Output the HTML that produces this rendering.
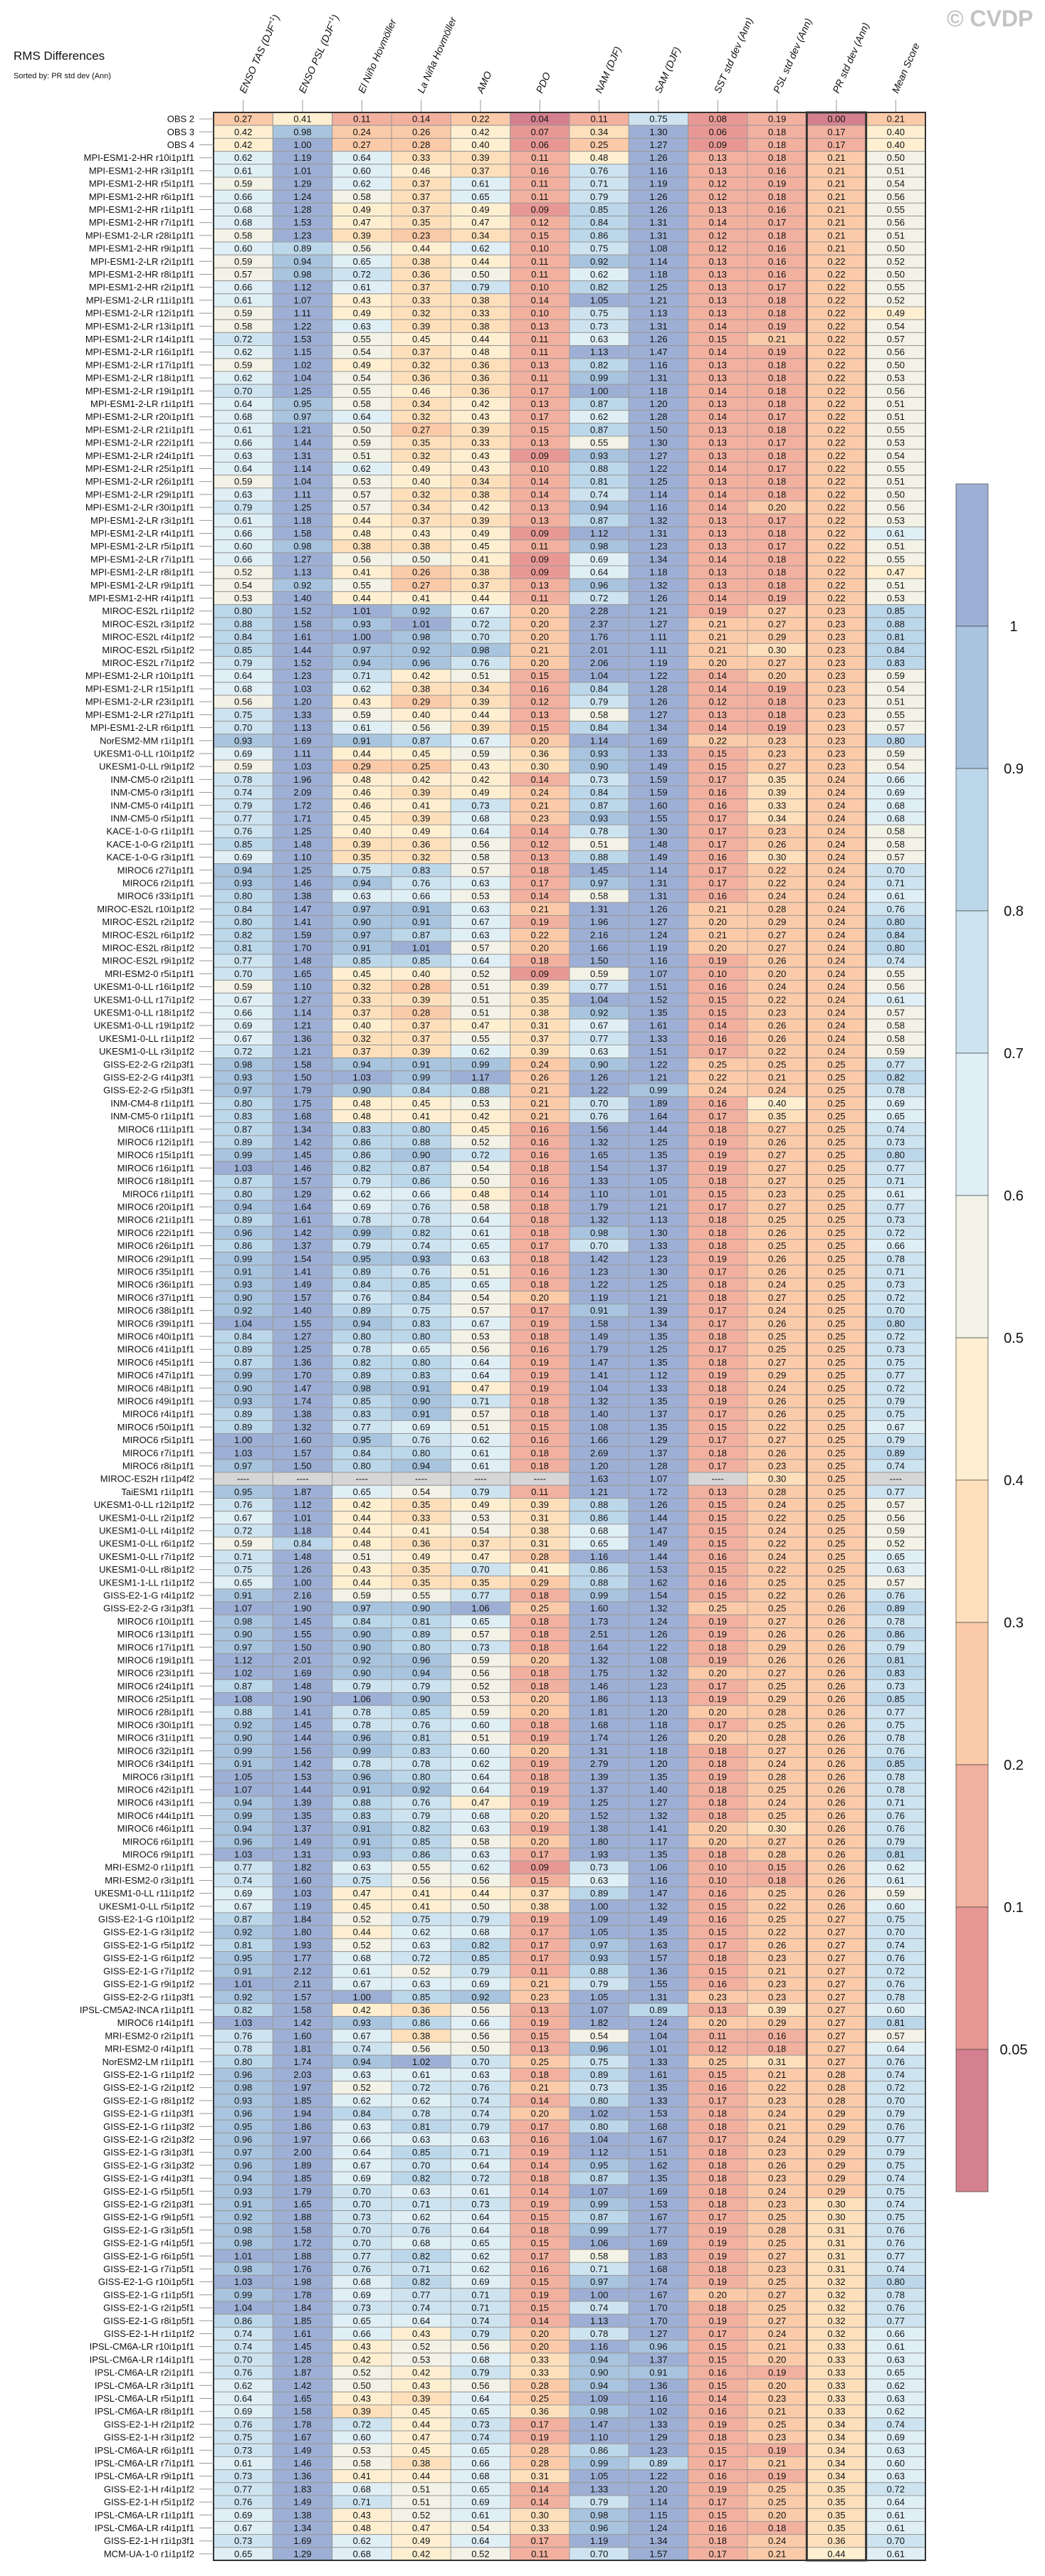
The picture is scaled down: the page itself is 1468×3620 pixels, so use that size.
<!DOCTYPE html>
<html><head><meta charset="utf-8">
<style>
html,body{margin:0;padding:0;background:#fff;}
svg{display:block;font-family:"Liberation Sans",Arial,sans-serif;}
</style></head>
<body>
<svg id="chart" width="1468" height="3620" viewBox="0 0 1468 3620" xmlns="http://www.w3.org/2000/svg">
<text x="19" y="84" font-size="17" fill="#111">RMS Differences</text>
<text x="19" y="110" font-size="11" fill="#111">Sorted by: PR std dev (Ann)</text>
<text x="1330" y="37" font-size="32" font-weight="bold" fill="#c4c4c4">© CVDP</text>
<g id="header"></g>
<g id="cells"></g>
<g id="rowlabels"></g>
<g id="colorbar"></g>
</svg>
<script>
const columnLabels = ["ENSO TAS (DJF|+1|)","ENSO PSL (DJF|+1|)","El Niño Hovmöller","La Niña Hovmöller","AMO","PDO","NAM (DJF)","SAM (DJF)","SST std dev (Ann)","PSL std dev (Ann)","PR std dev (Ann)","Mean Score"];
const colorLevels = [0.05,0.1,0.2,0.3,0.4,0.5,0.6,0.7,0.8,0.9,1];
const colorbarTickLabels = ["0.05","0.1","0.2","0.3","0.4","0.5","0.6","0.7","0.8","0.9","1"];
const levelColors = ["#d4808f","#e89894","#f2b09f","#fbcaa8","#fde0bb","#fdefd0","#f3f2e6","#e0eff6","#cde4f0","#bcd7ea","#a8c4de","#9dafd4"];
const rowLabels = [
"OBS 2","OBS 3","OBS 4",
"MPI-ESM1-2-HR r10i1p1f1","MPI-ESM1-2-HR r3i1p1f1","MPI-ESM1-2-HR r5i1p1f1","MPI-ESM1-2-HR r6i1p1f1","MPI-ESM1-2-HR r1i1p1f1","MPI-ESM1-2-HR r7i1p1f1","MPI-ESM1-2-LR r28i1p1f1","MPI-ESM1-2-HR r9i1p1f1","MPI-ESM1-2-LR r2i1p1f1","MPI-ESM1-2-HR r8i1p1f1","MPI-ESM1-2-HR r2i1p1f1","MPI-ESM1-2-LR r11i1p1f1","MPI-ESM1-2-LR r12i1p1f1","MPI-ESM1-2-LR r13i1p1f1","MPI-ESM1-2-LR r14i1p1f1","MPI-ESM1-2-LR r16i1p1f1","MPI-ESM1-2-LR r17i1p1f1","MPI-ESM1-2-LR r18i1p1f1","MPI-ESM1-2-LR r19i1p1f1","MPI-ESM1-2-LR r1i1p1f1","MPI-ESM1-2-LR r20i1p1f1","MPI-ESM1-2-LR r21i1p1f1","MPI-ESM1-2-LR r22i1p1f1","MPI-ESM1-2-LR r24i1p1f1","MPI-ESM1-2-LR r25i1p1f1","MPI-ESM1-2-LR r26i1p1f1","MPI-ESM1-2-LR r29i1p1f1","MPI-ESM1-2-LR r30i1p1f1","MPI-ESM1-2-LR r3i1p1f1","MPI-ESM1-2-LR r4i1p1f1","MPI-ESM1-2-LR r5i1p1f1","MPI-ESM1-2-LR r7i1p1f1","MPI-ESM1-2-LR r8i1p1f1","MPI-ESM1-2-LR r9i1p1f1","MPI-ESM1-2-HR r4i1p1f1",
"MIROC-ES2L r1i1p1f2","MIROC-ES2L r3i1p1f2","MIROC-ES2L r4i1p1f2","MIROC-ES2L r5i1p1f2","MIROC-ES2L r7i1p1f2","MPI-ESM1-2-LR r10i1p1f1","MPI-ESM1-2-LR r15i1p1f1","MPI-ESM1-2-LR r23i1p1f1","MPI-ESM1-2-LR r27i1p1f1","MPI-ESM1-2-LR r6i1p1f1","NorESM2-MM r1i1p1f1","UKESM1-0-LL r10i1p1f2","UKESM1-0-LL r9i1p1f2","INM-CM5-0 r2i1p1f1","INM-CM5-0 r3i1p1f1","INM-CM5-0 r4i1p1f1","INM-CM5-0 r5i1p1f1","KACE-1-0-G r1i1p1f1","KACE-1-0-G r2i1p1f1","KACE-1-0-G r3i1p1f1","MIROC6 r27i1p1f1","MIROC6 r2i1p1f1","MIROC6 r33i1p1f1","MIROC-ES2L r10i1p1f2","MIROC-ES2L r2i1p1f2","MIROC-ES2L r6i1p1f2","MIROC-ES2L r8i1p1f2","MIROC-ES2L r9i1p1f2","MRI-ESM2-0 r5i1p1f1","UKESM1-0-LL r16i1p1f2","UKESM1-0-LL r17i1p1f2","UKESM1-0-LL r18i1p1f2","UKESM1-0-LL r19i1p1f2","UKESM1-0-LL r1i1p1f2","UKESM1-0-LL r3i1p1f2","GISS-E2-2-G r2i1p3f1","GISS-E2-2-G r4i1p3f1","GISS-E2-2-G r5i1p3f1",
"INM-CM4-8 r1i1p1f1","INM-CM5-0 r1i1p1f1","MIROC6 r11i1p1f1","MIROC6 r12i1p1f1","MIROC6 r15i1p1f1","MIROC6 r16i1p1f1","MIROC6 r18i1p1f1","MIROC6 r1i1p1f1","MIROC6 r20i1p1f1","MIROC6 r21i1p1f1","MIROC6 r22i1p1f1","MIROC6 r26i1p1f1","MIROC6 r29i1p1f1","MIROC6 r35i1p1f1","MIROC6 r36i1p1f1","MIROC6 r37i1p1f1","MIROC6 r38i1p1f1","MIROC6 r39i1p1f1","MIROC6 r40i1p1f1","MIROC6 r41i1p1f1","MIROC6 r45i1p1f1","MIROC6 r47i1p1f1","MIROC6 r48i1p1f1","MIROC6 r49i1p1f1","MIROC6 r4i1p1f1","MIROC6 r50i1p1f1","MIROC6 r5i1p1f1","MIROC6 r7i1p1f1","MIROC6 r8i1p1f1","MIROC-ES2H r1i1p4f2","TaiESM1 r1i1p1f1","UKESM1-0-LL r12i1p1f2","UKESM1-0-LL r2i1p1f2","UKESM1-0-LL r4i1p1f2","UKESM1-0-LL r6i1p1f2","UKESM1-0-LL r7i1p1f2","UKESM1-0-LL r8i1p1f2","UKESM1-1-LL r1i1p1f2",
"GISS-E2-1-G r4i1p1f2","GISS-E2-2-G r3i1p3f1","MIROC6 r10i1p1f1","MIROC6 r13i1p1f1","MIROC6 r17i1p1f1","MIROC6 r19i1p1f1","MIROC6 r23i1p1f1","MIROC6 r24i1p1f1","MIROC6 r25i1p1f1","MIROC6 r28i1p1f1","MIROC6 r30i1p1f1","MIROC6 r31i1p1f1","MIROC6 r32i1p1f1","MIROC6 r34i1p1f1","MIROC6 r3i1p1f1","MIROC6 r42i1p1f1","MIROC6 r43i1p1f1","MIROC6 r44i1p1f1","MIROC6 r46i1p1f1","MIROC6 r6i1p1f1","MIROC6 r9i1p1f1","MRI-ESM2-0 r1i1p1f1","MRI-ESM2-0 r3i1p1f1","UKESM1-0-LL r11i1p1f2","UKESM1-0-LL r5i1p1f2","GISS-E2-1-G r10i1p1f2","GISS-E2-1-G r3i1p1f2","GISS-E2-1-G r5i1p1f2","GISS-E2-1-G r6i1p1f2","GISS-E2-1-G r7i1p1f2","GISS-E2-1-G r9i1p1f2","GISS-E2-2-G r1i1p3f1","IPSL-CM5A2-INCA r1i1p1f1","MIROC6 r14i1p1f1","MRI-ESM2-0 r2i1p1f1","MRI-ESM2-0 r4i1p1f1","NorESM2-LM r1i1p1f1","GISS-E2-1-G r1i1p1f2",
"GISS-E2-1-G r2i1p1f2","GISS-E2-1-G r8i1p1f2","GISS-E2-1-G r1i1p3f1","GISS-E2-1-G r1i1p3f2","GISS-E2-1-G r2i1p3f2","GISS-E2-1-G r3i1p3f1","GISS-E2-1-G r3i1p3f2","GISS-E2-1-G r4i1p3f1","GISS-E2-1-G r5i1p5f1","GISS-E2-1-G r2i1p3f1","GISS-E2-1-G r9i1p5f1","GISS-E2-1-G r3i1p5f1","GISS-E2-1-G r4i1p5f1","GISS-E2-1-G r6i1p5f1","GISS-E2-1-G r7i1p5f1","GISS-E2-1-G r10i1p5f1","GISS-E2-1-G r1i1p5f1","GISS-E2-1-G r2i1p5f1","GISS-E2-1-G r8i1p5f1","GISS-E2-1-H r1i1p1f2","IPSL-CM6A-LR r10i1p1f1","IPSL-CM6A-LR r14i1p1f1","IPSL-CM6A-LR r2i1p1f1","IPSL-CM6A-LR r3i1p1f1","IPSL-CM6A-LR r5i1p1f1","IPSL-CM6A-LR r8i1p1f1","GISS-E2-1-H r2i1p1f2","GISS-E2-1-H r3i1p1f2","IPSL-CM6A-LR r6i1p1f1","IPSL-CM6A-LR r7i1p1f1","IPSL-CM6A-LR r9i1p1f1","GISS-E2-1-H r4i1p1f2","GISS-E2-1-H r5i1p1f2","IPSL-CM6A-LR r1i1p1f1","IPSL-CM6A-LR r4i1p1f1","GISS-E2-1-H r1i1p3f1","MCM-UA-1-0 r1i1p1f2"];
const cellValues = [
[0.27,0.41,0.11,0.14,0.22,0.04,0.11,0.75,0.08,0.19,0.00,0.21],
[0.42,0.98,0.24,0.26,0.42,0.07,0.34,1.30,0.06,0.18,0.17,0.40],
[0.42,1.00,0.27,0.28,0.40,0.06,0.25,1.27,0.09,0.18,0.17,0.40],
[0.62,1.19,0.64,0.33,0.39,0.11,0.48,1.26,0.13,0.18,0.21,0.50],
[0.61,1.01,0.60,0.46,0.37,0.16,0.76,1.16,0.13,0.16,0.21,0.51],
[0.59,1.29,0.62,0.37,0.61,0.11,0.71,1.19,0.12,0.19,0.21,0.54],
[0.66,1.24,0.58,0.37,0.65,0.11,0.79,1.26,0.12,0.18,0.21,0.56],
[0.68,1.28,0.49,0.37,0.49,0.09,0.85,1.26,0.13,0.16,0.21,0.55],
[0.68,1.53,0.47,0.35,0.47,0.12,0.84,1.31,0.14,0.17,0.21,0.56],
[0.58,1.23,0.39,0.23,0.34,0.15,0.86,1.31,0.12,0.18,0.21,0.51],
[0.60,0.89,0.56,0.44,0.62,0.10,0.75,1.08,0.12,0.16,0.21,0.50],
[0.59,0.94,0.65,0.38,0.44,0.11,0.92,1.14,0.13,0.16,0.22,0.52],
[0.57,0.98,0.72,0.36,0.50,0.11,0.62,1.18,0.13,0.16,0.22,0.50],
[0.66,1.12,0.61,0.37,0.79,0.10,0.82,1.25,0.13,0.17,0.22,0.55],
[0.61,1.07,0.43,0.33,0.38,0.14,1.05,1.21,0.13,0.18,0.22,0.52],
[0.59,1.11,0.49,0.32,0.33,0.10,0.75,1.13,0.13,0.18,0.22,0.49],
[0.58,1.22,0.63,0.39,0.38,0.13,0.73,1.31,0.14,0.19,0.22,0.54],
[0.72,1.53,0.55,0.45,0.44,0.11,0.63,1.26,0.15,0.21,0.22,0.57],
[0.62,1.15,0.54,0.37,0.48,0.11,1.13,1.47,0.14,0.19,0.22,0.56],
[0.59,1.02,0.49,0.32,0.36,0.13,0.82,1.16,0.13,0.18,0.22,0.50],
[0.62,1.04,0.54,0.36,0.36,0.11,0.99,1.31,0.13,0.18,0.22,0.53],
[0.70,1.25,0.55,0.46,0.36,0.17,1.00,1.18,0.14,0.18,0.22,0.56],
[0.64,0.95,0.58,0.34,0.42,0.13,0.87,1.20,0.13,0.18,0.22,0.51],
[0.68,0.97,0.64,0.32,0.43,0.17,0.62,1.28,0.14,0.17,0.22,0.51],
[0.61,1.21,0.50,0.27,0.39,0.15,0.87,1.50,0.13,0.18,0.22,0.55],
[0.66,1.44,0.59,0.35,0.33,0.13,0.55,1.30,0.13,0.17,0.22,0.53],
[0.63,1.31,0.51,0.32,0.43,0.09,0.93,1.27,0.13,0.18,0.22,0.54],
[0.64,1.14,0.62,0.49,0.43,0.10,0.88,1.22,0.14,0.17,0.22,0.55],
[0.59,1.04,0.53,0.40,0.34,0.14,0.81,1.25,0.13,0.18,0.22,0.51],
[0.63,1.11,0.57,0.32,0.38,0.14,0.74,1.14,0.14,0.18,0.22,0.50],
[0.79,1.25,0.57,0.34,0.42,0.13,0.94,1.16,0.14,0.20,0.22,0.56],
[0.61,1.18,0.44,0.37,0.39,0.13,0.87,1.32,0.13,0.17,0.22,0.53],
[0.66,1.58,0.48,0.43,0.49,0.09,1.12,1.31,0.13,0.18,0.22,0.61],
[0.60,0.98,0.38,0.38,0.45,0.11,0.98,1.23,0.13,0.17,0.22,0.51],
[0.66,1.27,0.56,0.50,0.41,0.09,0.69,1.34,0.14,0.18,0.22,0.55],
[0.52,1.13,0.41,0.26,0.38,0.09,0.64,1.18,0.13,0.18,0.22,0.47],
[0.54,0.92,0.55,0.27,0.37,0.13,0.96,1.32,0.13,0.18,0.22,0.51],
[0.53,1.40,0.44,0.41,0.44,0.11,0.72,1.26,0.14,0.19,0.22,0.53],
[0.80,1.52,1.01,0.92,0.67,0.20,2.28,1.21,0.19,0.27,0.23,0.85],
[0.88,1.58,0.93,1.01,0.72,0.20,2.37,1.27,0.21,0.27,0.23,0.88],
[0.84,1.61,1.00,0.98,0.70,0.20,1.76,1.11,0.21,0.29,0.23,0.81],
[0.85,1.44,0.97,0.92,0.98,0.21,2.01,1.11,0.21,0.30,0.23,0.84],
[0.79,1.52,0.94,0.96,0.76,0.20,2.06,1.19,0.20,0.27,0.23,0.83],
[0.64,1.23,0.71,0.42,0.51,0.15,1.04,1.22,0.14,0.20,0.23,0.59],
[0.68,1.03,0.62,0.38,0.34,0.16,0.84,1.28,0.14,0.19,0.23,0.54],
[0.56,1.20,0.43,0.29,0.39,0.12,0.79,1.26,0.12,0.18,0.23,0.51],
[0.75,1.33,0.59,0.40,0.44,0.13,0.58,1.27,0.13,0.18,0.23,0.55],
[0.70,1.13,0.61,0.56,0.39,0.15,0.84,1.34,0.14,0.19,0.23,0.57],
[0.93,1.69,0.91,0.87,0.67,0.20,1.14,1.69,0.22,0.23,0.23,0.80],
[0.69,1.11,0.44,0.45,0.59,0.36,0.93,1.33,0.15,0.23,0.23,0.59],
[0.59,1.03,0.29,0.25,0.43,0.30,0.90,1.49,0.15,0.27,0.23,0.54],
[0.78,1.96,0.48,0.42,0.42,0.14,0.73,1.59,0.17,0.35,0.24,0.66],
[0.74,2.09,0.46,0.39,0.49,0.24,0.84,1.59,0.16,0.39,0.24,0.69],
[0.79,1.72,0.46,0.41,0.73,0.21,0.87,1.60,0.16,0.33,0.24,0.68],
[0.77,1.71,0.45,0.39,0.68,0.23,0.93,1.55,0.17,0.34,0.24,0.68],
[0.76,1.25,0.40,0.49,0.64,0.14,0.78,1.30,0.17,0.23,0.24,0.58],
[0.85,1.48,0.39,0.36,0.56,0.12,0.51,1.48,0.17,0.26,0.24,0.58],
[0.69,1.10,0.35,0.32,0.58,0.13,0.88,1.49,0.16,0.30,0.24,0.57],
[0.94,1.25,0.75,0.83,0.57,0.18,1.45,1.14,0.17,0.22,0.24,0.70],
[0.93,1.46,0.94,0.76,0.63,0.17,0.97,1.31,0.17,0.22,0.24,0.71],
[0.80,1.38,0.63,0.66,0.53,0.14,0.58,1.31,0.16,0.24,0.24,0.61],
[0.84,1.47,0.97,0.91,0.63,0.21,1.31,1.26,0.21,0.28,0.24,0.76],
[0.80,1.41,0.90,0.91,0.67,0.19,1.96,1.27,0.20,0.29,0.24,0.80],
[0.82,1.59,0.97,0.87,0.63,0.22,2.16,1.24,0.21,0.27,0.24,0.84],
[0.81,1.70,0.91,1.01,0.57,0.20,1.66,1.19,0.20,0.27,0.24,0.80],
[0.77,1.48,0.85,0.85,0.64,0.18,1.50,1.16,0.19,0.26,0.24,0.74],
[0.70,1.65,0.45,0.40,0.52,0.09,0.59,1.07,0.10,0.20,0.24,0.55],
[0.59,1.10,0.32,0.28,0.51,0.39,0.77,1.51,0.16,0.24,0.24,0.56],
[0.67,1.27,0.33,0.39,0.51,0.35,1.04,1.52,0.15,0.22,0.24,0.61],
[0.66,1.14,0.37,0.28,0.51,0.38,0.92,1.35,0.15,0.23,0.24,0.57],
[0.69,1.21,0.40,0.37,0.47,0.31,0.67,1.61,0.14,0.26,0.24,0.58],
[0.67,1.36,0.32,0.37,0.55,0.37,0.77,1.33,0.16,0.26,0.24,0.58],
[0.72,1.21,0.37,0.39,0.62,0.39,0.63,1.51,0.17,0.22,0.24,0.59],
[0.98,1.58,0.94,0.91,0.99,0.24,0.90,1.22,0.25,0.25,0.25,0.77],
[0.93,1.50,1.03,0.99,1.17,0.26,1.26,1.21,0.22,0.21,0.25,0.82],
[0.97,1.79,0.90,0.84,0.88,0.21,1.22,0.99,0.24,0.24,0.25,0.78],
[0.80,1.75,0.48,0.45,0.53,0.21,0.70,1.89,0.16,0.40,0.25,0.69],
[0.83,1.68,0.48,0.41,0.42,0.21,0.76,1.64,0.17,0.35,0.25,0.65],
[0.87,1.34,0.83,0.80,0.45,0.16,1.56,1.44,0.18,0.27,0.25,0.74],
[0.89,1.42,0.86,0.88,0.52,0.16,1.32,1.25,0.19,0.26,0.25,0.73],
[0.99,1.45,0.86,0.90,0.72,0.16,1.65,1.35,0.19,0.27,0.25,0.80],
[1.03,1.46,0.82,0.87,0.54,0.18,1.54,1.37,0.19,0.27,0.25,0.77],
[0.87,1.57,0.79,0.86,0.50,0.16,1.33,1.05,0.18,0.27,0.25,0.71],
[0.80,1.29,0.62,0.66,0.48,0.14,1.10,1.01,0.15,0.23,0.25,0.61],
[0.94,1.64,0.69,0.76,0.58,0.18,1.79,1.21,0.17,0.27,0.25,0.77],
[0.89,1.61,0.78,0.78,0.64,0.18,1.32,1.13,0.18,0.25,0.25,0.73],
[0.96,1.42,0.99,0.82,0.61,0.18,0.98,1.30,0.18,0.26,0.25,0.72],
[0.86,1.37,0.79,0.74,0.65,0.17,0.70,1.33,0.18,0.25,0.25,0.66],
[0.99,1.54,0.95,0.93,0.63,0.18,1.42,1.23,0.19,0.26,0.25,0.78],
[0.91,1.41,0.89,0.76,0.51,0.16,1.23,1.30,0.17,0.26,0.25,0.71],
[0.93,1.49,0.84,0.85,0.65,0.18,1.22,1.25,0.18,0.24,0.25,0.73],
[0.90,1.57,0.76,0.84,0.54,0.20,1.19,1.21,0.18,0.27,0.25,0.72],
[0.92,1.40,0.89,0.75,0.57,0.17,0.91,1.39,0.17,0.24,0.25,0.70],
[1.04,1.55,0.94,0.83,0.67,0.19,1.58,1.34,0.17,0.26,0.25,0.80],
[0.84,1.27,0.80,0.80,0.53,0.18,1.49,1.35,0.18,0.25,0.25,0.72],
[0.89,1.25,0.78,0.65,0.56,0.16,1.79,1.25,0.17,0.25,0.25,0.73],
[0.87,1.36,0.82,0.80,0.64,0.19,1.47,1.35,0.18,0.27,0.25,0.75],
[0.99,1.70,0.89,0.83,0.64,0.19,1.41,1.12,0.19,0.29,0.25,0.77],
[0.90,1.47,0.98,0.91,0.47,0.19,1.04,1.33,0.18,0.24,0.25,0.72],
[0.93,1.74,0.85,0.90,0.71,0.18,1.32,1.35,0.19,0.26,0.25,0.79],
[0.89,1.38,0.83,0.91,0.57,0.18,1.40,1.37,0.17,0.26,0.25,0.75],
[0.89,1.32,0.77,0.69,0.51,0.15,1.08,1.35,0.15,0.22,0.25,0.67],
[1.00,1.60,0.95,0.76,0.62,0.16,1.66,1.29,0.17,0.27,0.25,0.79],
[1.03,1.57,0.84,0.80,0.61,0.18,2.69,1.37,0.18,0.26,0.25,0.89],
[0.97,1.50,0.80,0.94,0.61,0.18,1.20,1.28,0.17,0.23,0.25,0.74],
[null,null,null,null,null,null,1.63,1.07,null,0.30,0.25,null],
[0.95,1.87,0.65,0.54,0.79,0.11,1.21,1.72,0.13,0.28,0.25,0.77],
[0.76,1.12,0.42,0.35,0.49,0.39,0.88,1.26,0.15,0.24,0.25,0.57],
[0.67,1.01,0.44,0.33,0.53,0.31,0.86,1.44,0.15,0.22,0.25,0.56],
[0.72,1.18,0.44,0.41,0.54,0.38,0.68,1.47,0.15,0.24,0.25,0.59],
[0.59,0.84,0.48,0.36,0.37,0.31,0.65,1.49,0.15,0.22,0.25,0.52],
[0.71,1.48,0.51,0.49,0.47,0.28,1.16,1.44,0.16,0.24,0.25,0.65],
[0.75,1.26,0.43,0.35,0.70,0.41,0.86,1.53,0.15,0.22,0.25,0.63],
[0.65,1.00,0.44,0.35,0.35,0.29,0.88,1.62,0.16,0.25,0.25,0.57],
[0.91,2.16,0.59,0.55,0.77,0.18,0.99,1.54,0.15,0.22,0.26,0.76],
[1.07,1.90,0.97,0.90,1.06,0.25,1.60,1.32,0.25,0.25,0.26,0.89],
[0.98,1.45,0.84,0.81,0.65,0.18,1.73,1.24,0.19,0.27,0.26,0.78],
[0.90,1.55,0.90,0.89,0.57,0.18,2.51,1.26,0.19,0.26,0.26,0.86],
[0.97,1.50,0.90,0.80,0.73,0.18,1.64,1.22,0.18,0.29,0.26,0.79],
[1.12,2.01,0.92,0.96,0.59,0.20,1.32,1.08,0.19,0.26,0.26,0.81],
[1.02,1.69,0.90,0.94,0.56,0.18,1.75,1.32,0.20,0.27,0.26,0.83],
[0.87,1.48,0.79,0.79,0.52,0.18,1.46,1.23,0.17,0.25,0.26,0.73],
[1.08,1.90,1.06,0.90,0.53,0.20,1.86,1.13,0.19,0.29,0.26,0.85],
[0.88,1.41,0.78,0.85,0.59,0.20,1.81,1.20,0.20,0.28,0.26,0.77],
[0.92,1.45,0.78,0.76,0.60,0.18,1.68,1.18,0.17,0.25,0.26,0.75],
[0.90,1.44,0.96,0.81,0.51,0.19,1.74,1.26,0.20,0.28,0.26,0.78],
[0.99,1.56,0.99,0.83,0.60,0.20,1.31,1.18,0.18,0.27,0.26,0.76],
[0.91,1.42,0.78,0.78,0.62,0.19,2.79,1.20,0.18,0.24,0.26,0.85],
[1.05,1.53,0.96,0.80,0.64,0.18,1.39,1.35,0.19,0.28,0.26,0.78],
[1.07,1.44,0.91,0.92,0.64,0.19,1.37,1.40,0.18,0.25,0.26,0.78],
[0.94,1.39,0.88,0.76,0.47,0.19,1.25,1.27,0.18,0.24,0.26,0.71],
[0.99,1.35,0.83,0.79,0.68,0.20,1.52,1.32,0.18,0.25,0.26,0.76],
[0.94,1.37,0.91,0.82,0.63,0.19,1.38,1.41,0.20,0.30,0.26,0.76],
[0.96,1.49,0.91,0.85,0.58,0.20,1.80,1.17,0.20,0.27,0.26,0.79],
[1.03,1.31,0.93,0.86,0.63,0.17,1.93,1.35,0.18,0.28,0.26,0.81],
[0.77,1.82,0.63,0.55,0.62,0.09,0.73,1.06,0.10,0.15,0.26,0.62],
[0.74,1.60,0.75,0.56,0.56,0.15,0.63,1.16,0.10,0.18,0.26,0.61],
[0.69,1.03,0.47,0.41,0.44,0.37,0.89,1.47,0.16,0.25,0.26,0.59],
[0.67,1.19,0.45,0.41,0.50,0.38,1.00,1.32,0.15,0.22,0.26,0.60],
[0.87,1.84,0.52,0.75,0.79,0.19,1.09,1.49,0.16,0.25,0.27,0.75],
[0.92,1.80,0.44,0.62,0.68,0.17,1.05,1.35,0.15,0.22,0.27,0.70],
[0.81,1.93,0.52,0.63,0.82,0.17,0.97,1.63,0.17,0.26,0.27,0.74],
[0.95,1.77,0.68,0.72,0.85,0.17,0.93,1.57,0.18,0.23,0.27,0.76],
[0.91,2.12,0.61,0.52,0.79,0.11,0.88,1.36,0.15,0.21,0.27,0.72],
[1.01,2.11,0.67,0.63,0.69,0.21,0.79,1.55,0.16,0.23,0.27,0.76],
[0.92,1.57,1.00,0.85,0.92,0.23,1.05,1.31,0.23,0.23,0.27,0.78],
[0.82,1.58,0.42,0.36,0.56,0.13,1.07,0.89,0.13,0.39,0.27,0.60],
[1.03,1.42,0.93,0.86,0.66,0.19,1.82,1.24,0.20,0.29,0.27,0.81],
[0.76,1.60,0.67,0.38,0.56,0.15,0.54,1.04,0.11,0.16,0.27,0.57],
[0.78,1.81,0.74,0.56,0.50,0.13,0.96,1.01,0.12,0.18,0.27,0.64],
[0.80,1.74,0.94,1.02,0.70,0.25,0.75,1.33,0.25,0.31,0.27,0.76],
[0.96,2.03,0.63,0.61,0.63,0.18,0.89,1.61,0.15,0.21,0.28,0.74],
[0.98,1.97,0.52,0.72,0.76,0.21,0.73,1.35,0.16,0.22,0.28,0.72],
[0.93,1.85,0.62,0.62,0.74,0.14,0.80,1.33,0.17,0.23,0.28,0.70],
[0.96,1.94,0.84,0.78,0.74,0.20,1.02,1.53,0.18,0.24,0.29,0.79],
[0.95,1.86,0.63,0.81,0.79,0.17,0.80,1.68,0.18,0.21,0.29,0.76],
[0.96,1.97,0.66,0.63,0.63,0.16,1.04,1.67,0.17,0.24,0.29,0.77],
[0.97,2.00,0.64,0.85,0.71,0.19,1.12,1.51,0.18,0.23,0.29,0.79],
[0.96,1.89,0.67,0.70,0.64,0.14,0.95,1.62,0.18,0.26,0.29,0.75],
[0.94,1.85,0.69,0.82,0.72,0.18,0.87,1.35,0.18,0.23,0.29,0.74],
[0.93,1.79,0.70,0.63,0.61,0.14,1.07,1.69,0.18,0.24,0.29,0.75],
[0.91,1.65,0.70,0.71,0.73,0.19,0.99,1.53,0.18,0.23,0.30,0.74],
[0.92,1.88,0.73,0.62,0.64,0.15,0.87,1.67,0.17,0.25,0.30,0.75],
[0.98,1.58,0.70,0.76,0.64,0.18,0.99,1.77,0.19,0.28,0.31,0.76],
[0.98,1.72,0.70,0.68,0.65,0.15,1.06,1.69,0.19,0.25,0.31,0.76],
[1.01,1.88,0.77,0.82,0.62,0.17,0.58,1.83,0.19,0.27,0.31,0.77],
[0.98,1.76,0.76,0.71,0.62,0.16,0.71,1.68,0.18,0.23,0.31,0.74],
[1.03,1.98,0.68,0.82,0.69,0.15,0.97,1.74,0.19,0.25,0.32,0.80],
[0.99,1.78,0.69,0.77,0.71,0.19,1.00,1.67,0.20,0.27,0.32,0.78],
[1.04,1.84,0.73,0.74,0.71,0.15,0.74,1.70,0.18,0.25,0.32,0.76],
[0.86,1.85,0.65,0.64,0.74,0.14,1.13,1.70,0.19,0.27,0.32,0.77],
[0.74,1.61,0.66,0.43,0.79,0.20,0.78,1.27,0.17,0.24,0.32,0.66],
[0.74,1.45,0.43,0.52,0.56,0.20,1.16,0.96,0.15,0.21,0.33,0.61],
[0.70,1.28,0.42,0.53,0.68,0.33,0.94,1.37,0.15,0.20,0.33,0.63],
[0.76,1.87,0.52,0.42,0.79,0.33,0.90,0.91,0.16,0.19,0.33,0.65],
[0.62,1.42,0.50,0.43,0.56,0.28,0.94,1.36,0.15,0.20,0.33,0.62],
[0.64,1.65,0.43,0.39,0.64,0.25,1.09,1.16,0.14,0.23,0.33,0.63],
[0.69,1.58,0.39,0.45,0.65,0.36,0.98,1.02,0.16,0.21,0.33,0.62],
[0.76,1.78,0.72,0.44,0.73,0.17,1.47,1.33,0.19,0.25,0.34,0.74],
[0.75,1.67,0.60,0.47,0.74,0.19,1.10,1.29,0.18,0.23,0.34,0.69],
[0.73,1.49,0.53,0.45,0.65,0.28,0.86,1.23,0.15,0.19,0.34,0.63],
[0.61,1.46,0.58,0.38,0.66,0.28,0.99,0.89,0.17,0.21,0.34,0.60],
[0.73,1.36,0.41,0.44,0.68,0.31,1.05,1.22,0.16,0.19,0.34,0.63],
[0.77,1.83,0.68,0.51,0.65,0.14,1.33,1.20,0.19,0.25,0.35,0.72],
[0.76,1.49,0.71,0.51,0.69,0.14,0.79,1.14,0.17,0.25,0.35,0.64],
[0.69,1.38,0.43,0.52,0.61,0.30,0.98,1.15,0.15,0.20,0.35,0.61],
[0.67,1.34,0.48,0.47,0.54,0.33,0.96,1.24,0.16,0.18,0.35,0.61],
[0.73,1.69,0.62,0.49,0.64,0.17,1.19,1.34,0.18,0.24,0.36,0.70],
[0.65,1.29,0.68,0.42,0.52,0.11,0.70,1.57,0.17,0.21,0.44,0.61]];

const NS = "http://www.w3.org/2000/svg";
const tableLeft = 300, tableRight = 1300, tableTop = 158, tableBottom = 3598;
const colW = (tableRight - tableLeft) / columnLabels.length;
const rowH = (tableBottom - tableTop) / rowLabels.length;
function xScale(j){ return tableLeft + j * colW; }
function yScale(i){ return tableTop + i * rowH; }
function colorFor(v){
  if (v === null) return "#d6d6d6";
  let k = 0;
  while (k < colorLevels.length && v >= colorLevels[k]) k++;
  return levelColors[k];
}
function mk(tag, attrs, parent){
  const e = document.createElementNS(NS, tag);
  for (const k in attrs) e.setAttribute(k, attrs[k]);
  parent.appendChild(e);
  return e;
}
const header = document.getElementById("header");
const cells = document.getElementById("cells");
const rowlab = document.getElementById("rowlabels");
const cbar = document.getElementById("colorbar");

// headers
columnLabels.forEach((lab, j) => {
  const cx = xScale(j) + colW / 2;
  const tick = mk("line", {x1: cx, x2: cx, y1: 140, y2: tableTop, stroke: "#999", "stroke-width": 1}, header);
  
  
  const t = mk("text", {x: 0, y: 0, "font-size": 14, "font-style": "italic", fill: "#111",
    transform: "translate(" + (cx + 3) + ",132) rotate(-66)"}, header);
  
  
  const parts = lab.split("|");
  t.appendChild(document.createTextNode(parts[0]));
  if (parts.length > 1) {
    const s = mk("tspan", {"font-size": 9, dy: -6}, t);
    s.textContent = parts[1];
    const r = mk("tspan", {dy: 6}, t);
    r.textContent = parts[2];
  }
});

// cells
rowLabels.forEach((name, i) => {
  const y = yScale(i);
  const lt = mk("text", {x: 273, y: y + rowH / 2 + 4.5, "font-size": 13, "text-anchor": "end", fill: "#111"}, rowlab);
  
  
  lt.textContent = name;
  const tk = mk("line", {x1: 280, x2: tableLeft, y1: y + rowH / 2, y2: y + rowH / 2, stroke: "#999", "stroke-width": 1}, rowlab);
  
  
  cellValues[i].forEach((v, j) => {
    const r = mk("rect", {x: xScale(j), y: y, width: colW, height: rowH, fill: colorFor(v), stroke: "#9a9a9a", "stroke-width": 1}, cells);
    
    
    const t = mk("text", {x: xScale(j) + colW / 2, y: y + rowH / 2 + 4.5, "font-size": 13, "text-anchor": "middle", fill: "#111"}, cells);
    
    
    t.textContent = v === null ? "----" : v.toFixed(2);
  });
});
// outer border + PR column highlight
const outer = mk("rect", {x: tableLeft, y: tableTop, width: tableRight - tableLeft, height: tableBottom - tableTop, fill: "none", stroke: "#333", "stroke-width": 2}, cells);


const prCol = columnLabels.indexOf("PR std dev (Ann)");
const hl = mk("rect", {x: xScale(prCol), y: tableTop, width: colW, height: tableBottom - tableTop, fill: "none", stroke: "#333", "stroke-width": 3}, cells);



// colorbar
const cbTop = 680, cbStep = 200, cbX = 1343, cbW = 45;
const nBox = levelColors.length;
for (let k = 0; k < nBox; k++) {
  const idx = nBox - 1 - k;
  const b = mk("rect", {x: cbX, y: cbTop + k * cbStep, width: cbW, height: cbStep, fill: levelColors[idx], stroke: "#444", "stroke-width": 0.7}, cbar);
  
  
}
colorbarTickLabels.forEach((lab, k) => {
  const yy = cbTop + (colorLevels.length - k) * cbStep;
  const t = mk("text", {x: 1424, y: yy + 7, "font-size": 20, "text-anchor": "middle", fill: "#111"}, cbar);
  
  
  t.textContent = lab;
});
</script>
</body></html>
